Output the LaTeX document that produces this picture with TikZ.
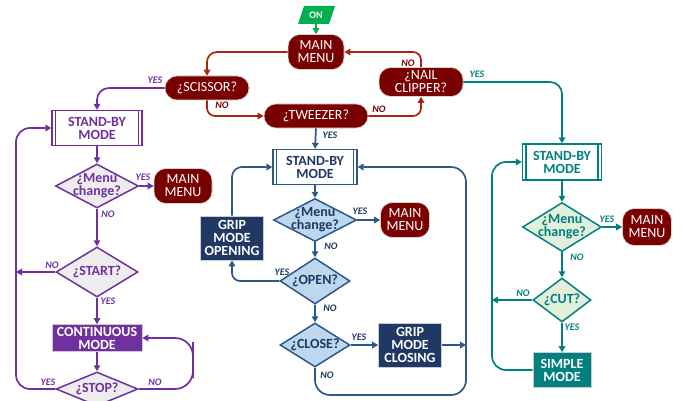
\documentclass[tikz,border=0pt]{standalone}
\usepackage{fontspec}
\setmainfont{Carlito}
\usetikzlibrary{shapes.geometric,arrows.meta}
\definecolor{mred}{RGB}{122,0,0}
\definecolor{ared}{RGB}{168,36,12}
\definecolor{purp}{RGB}{112,48,160}
\definecolor{pgray}{RGB}{237,237,237}
\definecolor{navy}{RGB}{31,56,100}
\definecolor{nline}{RGB}{46,88,136}
\definecolor{nlight}{RGB}{189,215,238}
\definecolor{teal}{RGB}{0,128,127}
\definecolor{tlight}{RGB}{226,239,218}
\definecolor{ongreen}{RGB}{0,176,80}
\newcommand\nfont{\fontsize{14}{13}\selectfont}
\newcommand\lfont{\fontsize{10}{10}\selectfont\bfseries\itshape}
\tikzset{
  arr/.style={line width=1.7pt,-{Triangle[width=6.5pt,length=6pt]}},
  rarr/.style={arr,draw=ared,color=ared},
  parr/.style={arr,draw=purp,color=purp},
  narr/.style={arr,draw=nline,color=nline},
  tarr/.style={arr,draw=teal,color=teal},
  garr/.style={arr,draw=ongreen,color=ongreen},
  menubox/.style={fill=mred,draw=gray!35,line width=0.6pt,text=white,rounded corners=12pt,align=center,inner sep=0pt,font=\nfont},
  sbox/.style={draw=#1,line width=1.3pt,text=#1,fill=white,align=center,inner sep=0pt,font=\nfont\bfseries,
    path picture={\draw[#1,line width=1.3pt] ([xshift=3.5pt]path picture bounding box.north west) -- ([xshift=3.5pt]path picture bounding box.south west);
                  \draw[#1,line width=1.3pt] ([xshift=-3.5pt]path picture bounding box.north east) -- ([xshift=-3.5pt]path picture bounding box.south east);}},
  dia/.style n args={2}{diamond,draw=#1,fill=#2,line width=1.5pt,inner sep=0pt},
  diatext/.style={text=#1,align=center,font=\nfont\bfseries,inner sep=0pt},
  fbox/.style={fill=#1,draw=gray!40,line width=0.6pt,text=white,align=center,inner sep=0pt,font=\nfont\bfseries},
  lab/.style={text=#1,font=\lfont,inner sep=0pt}
}
\begin{document}
\begin{tikzpicture}[x=1pt,y=-1pt]
\useasboundingbox (0,0) rectangle (682,401);
% ON
\fill[ongreen] (304,6) -- (335,6) -- (329,24) -- (298,24) -- cycle;
\node[text=white,font=\fontsize{10}{10}\selectfont\bfseries,minimum height=18pt,inner sep=0pt] (on) at (316,15) {ON};
% top red nodes
\node[menubox,minimum width=56pt,minimum height=35pt] (mm) at (316,52) {MAIN\\MENU};
\node[menubox,minimum width=84pt,minimum height=24pt] (sc) at (207,88) {¿SCISSOR?};
\node[menubox,minimum width=104pt,minimum height=24pt] (tw) at (316,116) {¿TWEEZER?};
\node[menubox,minimum width=84pt,minimum height=29pt] (nc) at (421,82) {¿NAIL\\CLIPPER?};
\draw[garr] (on.south) -- (mm.north);
\draw[rarr,rounded corners=10pt] (mm.west) -| (sc.north);
\draw[rarr,rounded corners=8pt] (sc.south) |- (tw.west);
\draw[rarr,rounded corners=8pt] (tw.east) -| (nc.south);
\draw[rarr,rounded corners=8pt] (nc.north) |- (mm.east);
\node[lab=mred] (l1) at (222,105) {NO};
\node[lab=mred] (l2) at (379,109) {NO};
\node[lab=mred] (l3) at (408,63) {NO};
% purple column
\node[sbox=purp,minimum width=90pt,minimum height=35pt] (sbp) at (97,128) {STAND-BY\\MODE};
\node[dia={purp}{pgray},minimum width=83pt,minimum height=44pt] (pd1) at (97,186) {};
\node[diatext=purp] (pd1t) at (pd1) {¿Menu\\change?};
\node[menubox,minimum width=58pt,minimum height=35pt] (pmm) at (183,186) {MAIN\\MENU};
\node[dia={purp}{pgray},minimum width=82pt,minimum height=50pt] (pst) at (97,272) {};
\node[diatext=purp] (pstt) at (pst) {¿START?};
\node[fbox=purp,minimum width=90pt,minimum height=27pt] (pcm) at (97,338) {CONTINUOUS\\MODE};
\node[dia={purp}{pgray},minimum width=82pt,minimum height=34pt] (psp) at (97,389) {};
\node[diatext=purp] (pspt) at (psp) {¿STOP?};
\coordinate (pl) at (16,272);
\coordinate (plx) at (16,250);
\coordinate (prx) at (193,360);
\draw[parr,rounded corners=12pt] (sc.west) -| (sbp.north);
\draw[parr] (sbp.south) -- (pd1.north);
\draw[parr] (pd1.east) -- (pmm.west);
\draw[parr] (pd1.south) -- (pst.north);
\draw[parr] (pst.west) -- (pl);
\draw[parr] (pst.south) -- (pcm.north);
\draw[parr] (pcm.south) -- (psp.north);
\draw[parr,rounded corners=14pt] (psp.west) -| (plx) |- (sbp.west);
\draw[parr,rounded corners=18pt] (psp.east) -| (prx) |- (pcm.east);
\node[lab=purp] (l4) at (155,80) {YES};
\node[lab=purp] (l5) at (143,177) {YES};
\node[lab=purp] (l6) at (108,214) {NO};
\node[lab=purp] (l7) at (52,265) {NO};
\node[lab=purp] (l8) at (108,301) {YES};
\node[lab=purp] (l9) at (48,382) {YES};
\node[lab=purp] (l10) at (155,382) {NO};
% navy column
\node[sbox=nline,text=navy,minimum width=84pt,minimum height=35pt] (sbn) at (315,167) {STAND-BY\\MODE};
\node[dia={nline}{nlight},minimum width=83pt,minimum height=43pt] (nd1) at (315,220) {};
\node[diatext=navy] (nd1t) at (nd1) {¿Menu\\change?};
\node[menubox,minimum width=49pt,minimum height=35pt] (nmm) at (405,220) {MAIN\\MENU};
\node[dia={nline}{nlight},minimum width=70pt,minimum height=46pt] (nop) at (315,281) {};
\node[diatext=navy] (nopt) at (nop) {¿OPEN?};
\node[fbox=navy,minimum width=63pt,minimum height=44pt] (ngo) at (232,238) {GRIP\\MODE\\OPENING};
\node[dia={nline}{nlight},minimum width=70pt,minimum height=44pt] (ncl) at (315,345) {};
\node[diatext=navy] (nclt) at (ncl) {¿CLOSE?};
\node[fbox=navy,minimum width=63pt,minimum height=44pt] (ngc) at (410,345) {GRIP\\MODE\\CLOSING};
\coordinate (nr) at (466,345);
\coordinate (nrb) at (466,395);
\draw[narr] (tw.south) -- (sbn.north);
\draw[narr] (sbn.south) -- (nd1.north);
\draw[narr] (nd1.east) -- (nmm.west);
\draw[narr] (nd1.south) -- (nop.north);
\draw[narr,rounded corners=8pt] (nop.west) -| (ngo.south);
\draw[narr,rounded corners=10pt] (ngo.north) |- (sbn.west);
\draw[narr] (nop.south) -- (ncl.north);
\draw[narr] (ncl.east) -- (ngc.west);
\draw[narr] (ngc.east) -- (nr);
\draw[narr,rounded corners=15pt] (ncl.south) |- (nrb) |- (sbn.east);
\node[lab=navy] (l11) at (330,135) {YES};
\node[lab=navy] (l12) at (360,211) {YES};
\node[lab=navy] (l13) at (331,246) {NO};
\node[lab=navy] (l14) at (282,272) {YES};
\node[lab=navy] (l15) at (330,308) {NO};
\node[lab=navy] (l16) at (359,337) {YES};
\node[lab=navy] (l17) at (327,375) {NO};
% teal column
\node[sbox=teal,minimum width=79pt,minimum height=36pt] (sbt) at (562,162) {STAND-BY\\MODE};
\node[dia={teal}{tlight},minimum width=79pt,minimum height=49pt] (td1) at (562,227) {};
\node[diatext=teal] (td1t) at (td1) {¿Menu\\change?};
\node[menubox,minimum width=49pt,minimum height=37pt] (tmm) at (647,227) {MAIN\\MENU};
\node[dia={teal}{tlight},minimum width=58pt,minimum height=44pt] (tcu) at (562,300) {};
\node[diatext=teal] (tcut) at (tcu) {¿CUT?};
\node[fbox=teal,minimum width=58pt,minimum height=35pt] (tsm) at (562,370) {SIMPLE\\MODE};
\coordinate (tl) at (492,300);
\coordinate (tlx) at (492,250);
\draw[tarr,rounded corners=12pt] (nc.east) -| (sbt.north);
\draw[tarr] (sbt.south) -- (td1.north);
\draw[tarr] (td1.east) -- (tmm.west);
\draw[tarr] (td1.south) -- (tcu.north);
\draw[tarr] (tcu.west) -- (tl);
\draw[tarr] (tcu.south) -- (tsm.north);
\draw[tarr,rounded corners=14pt] (tsm.west) -| (tlx) |- (sbt.west);
\node[lab=teal] (l18) at (477,74) {YES};
\node[lab=teal] (l19) at (607,219) {YES};
\node[lab=teal] (l20) at (577,257) {NO};
\node[lab=teal] (l21) at (523,293) {NO};
\node[lab=teal] (l22) at (572,327) {YES};
\end{tikzpicture}
\end{document}
